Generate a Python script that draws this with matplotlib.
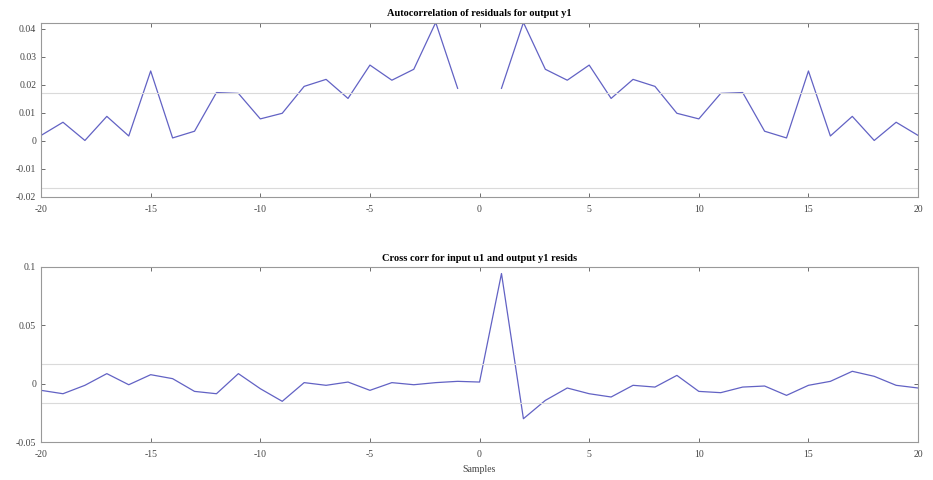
# Residual analysis plot: autocorrelation and cross correlation
import numpy as np
import matplotlib.pyplot as plt

plt.rcParams['axes.unicode_minus'] = False

# Lags
lags = np.arange(-20, 21)

# Autocorrelation of residuals for output y1 (lag 0 is off the scale)
acf_y1 = [0.0019, 0.0066, 0.0001, 0.0087, 0.0017, 0.0249, 0.0010, 0.0034, 0.0172, 0.0169,
          0.0078, 0.0098, 0.0194, 0.0219, 0.0151, 0.0270, 0.0216, 0.0255, 0.0422, 0.0187,
          np.nan,
          0.0187, 0.0422, 0.0255, 0.0216, 0.0270, 0.0151, 0.0219, 0.0194, 0.0098, 0.0078,
          0.0169, 0.0172, 0.0034, 0.0010, 0.0249, 0.0017, 0.0087, 0.0001, 0.0066, 0.0019]
conf_acf = 0.0170

# Cross correlation between input u1 and output y1 residuals
ccf_u1y1 = [-0.0057, -0.0086, -0.0014, 0.0086, -0.0009, 0.0077, 0.0043, -0.0066, -0.0086, 0.0086,
            -0.0043, -0.0151, 0.0009, -0.0014, 0.0014, -0.0057, 0.0009, -0.0009, 0.0009, 0.0020,
            0.0014,
            0.0943, -0.0300, -0.0143, -0.0037, -0.0086, -0.0114, -0.0014, -0.0029, 0.0071, -0.0066,
            -0.0077, -0.0029, -0.0020, -0.0100, -0.0014, 0.0020, 0.0106, 0.0063, -0.0014, -0.0037]
conf_ccf = 0.0165

xticks = [-20, -15, -10, -5, 0, 5, 10, 15, 20]

line_col = '#6262c4'
conf_col = '#dadada'
serif = ['Liberation Serif', 'DejaVu Serif']

fig = plt.figure(figsize=(9.33, 4.8), dpi=100)
ax1 = fig.add_axes([0.044, 0.590, 0.940, 0.362])
ax2 = fig.add_axes([0.044, 0.079, 0.940, 0.365])

def style(ax):
    ax.tick_params(direction='in', top=True, right=True, length=3, width=0.6,
                   color='#555555', labelsize=7, labelcolor='#444444')
    ax.tick_params(axis='x', pad=6)
    for lab in ax.get_xticklabels() + ax.get_yticklabels():
        lab.set_family(serif)
    for s in ax.spines.values():
        s.set_color('#999999')
        s.set_linewidth(0.8)

# Autocorrelation
ax1.plot(lags, acf_y1, color=line_col, lw=0.9)
ax1.axhline(conf_acf, color=conf_col, lw=0.8)
ax1.axhline(-conf_acf, color=conf_col, lw=0.8)
ax1.set_xlim(-20, 20)
ax1.set_ylim(-0.02, 0.042)
ax1.set_xticks(xticks)
ax1.set_yticks([-0.02, -0.01, 0, 0.01, 0.02, 0.03, 0.04])
ax1.set_yticklabels(['-0.02', '-0.01', '0', '0.01', '0.02', '0.03', '0.04'])
ax1.set_title('Autocorrelation of residuals for output y1', fontsize=7.5,
              fontweight='bold', family=serif, pad=5)
style(ax1)

# Cross correlation
ax2.plot(lags, ccf_u1y1, color=line_col, lw=0.9)
ax2.axhline(conf_ccf, color=conf_col, lw=0.8)
ax2.axhline(-conf_ccf, color=conf_col, lw=0.8)
ax2.set_xlim(-20, 20)
ax2.set_ylim(-0.05, 0.1)
ax2.set_xticks(xticks)
ax2.set_yticks([-0.05, 0, 0.05, 0.1])
ax2.set_yticklabels(['-0.05', '0', '0.05', '0.1'])
ax2.set_title('Cross corr for input u1 and output y1 resids', fontsize=7.5,
              fontweight='bold', family=serif, pad=4)
ax2.set_xlabel('Samples', fontsize=7, family=serif, color='#444444', labelpad=4)
style(ax2)

plt.savefig('out.png', dpi=100)
